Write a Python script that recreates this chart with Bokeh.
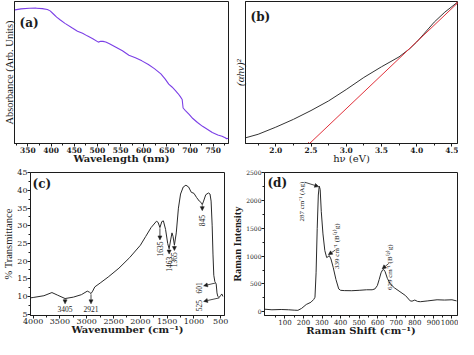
import numpy as np
from bokeh.plotting import figure
from bokeh.layouts import column, row
from bokeh.models import Range1d, Label, Arrow, NormalHead, FixedTicker, NumeralTickFormatter
from bokeh.embed import file_html
from bokeh.resources import INLINE

# ---------------- data ----------------
# (a) UV-vis absorbance
abs_wavelength = [322, 335, 353, 368, 381, 392, 398, 405, 412, 420, 430, 445, 457, 468, 478, 490, 502, 507,
                  512, 518, 526, 540, 554, 568, 582, 596, 610, 623, 637, 646, 654, 661, 668, 674, 679,
                  683, 685, 690, 698, 706, 716, 727, 738, 748, 760, 769, 776, 779, 783]
abs_value = [0.941, 0.948, 0.952, 0.953, 0.950, 0.944, 0.934, 0.912, 0.890, 0.870, 0.846, 0.815, 0.791,
             0.776, 0.758, 0.738, 0.714, 0.720, 0.719, 0.715, 0.703, 0.678, 0.653, 0.622, 0.604, 0.582,
             0.556, 0.527, 0.490, 0.455, 0.418, 0.398, 0.374, 0.352, 0.330, 0.310, 0.250, 0.232, 0.205,
             0.176, 0.148, 0.121, 0.098, 0.077, 0.060, 0.051, 0.040, 0.033, 0.037]

# (b) Tauc plot
tauc_energy = [1.57, 1.75, 2.0, 2.25, 2.5, 2.75, 3.0, 3.25, 3.5, 3.75, 3.9, 4.0, 4.1, 4.25, 4.4, 4.58]
tauc_value = [0.040, 0.065, 0.115, 0.170, 0.232, 0.300, 0.380, 0.465, 0.540, 0.610, 0.667, 0.715,
              0.770, 0.855, 0.925, 0.995]
fit_energy = [2.48, 4.58]
fit_value = [0.0, 0.989]

# (c) FTIR
ftir_wavenumber = [4050, 4000, 3800, 3650, 3550, 3405, 3250, 3100, 2990, 2950, 2921, 2890, 2850, 2750, 2600,
                   2400, 2200, 2000, 1900, 1800, 1700, 1670, 1635, 1600, 1570, 1530, 1490, 1463, 1435,
                   1410, 1390, 1365, 1330, 1290, 1250, 1200, 1150, 1100, 1050, 1000, 950, 900, 860, 845,
                   820, 780, 730, 700, 680, 660, 645, 630, 610, 601, 585, 570, 555, 540, 525, 500, 480, 460]
ftir_transmittance = [9.6, 9.7, 10.2, 11.1, 10.4, 9.4, 9.8, 10.5, 11.5, 11.2, 10.8, 11.5, 12.7, 13.8, 15.5,
                      18.0, 21.0, 24.5, 27.0, 29.5, 31.3, 31.0, 29.5, 31.2, 31.4, 29.0, 25.0, 23.5, 26.0,
                      28.0, 27.0, 24.5, 28.0, 35.0, 39.0, 41.0, 41.5, 41.0, 39.5, 39.2, 38.0, 37.0, 36.5,
                      36.0, 37.0, 38.8, 39.3, 39.0, 37.0, 30.0, 22.0, 16.0, 14.2, 14.0, 13.5, 11.0, 10.0,
                      9.8, 9.8, 10.3, 10.7, 10.0]
ftir_peaks = [3405, 2921, 1635, 1463, 1365, 845, 601, 525]
ftir_peak_labels = ["3405", "2921", "1635", "1463", "1365", "845", "601", "525"]

# (d) Raman
raman_shift = [-8, 30, 80, 120, 150, 170, 190, 215, 240, 255, 262, 268, 274, 280, 285, 290, 296, 305, 315,
               325, 333, 339, 348, 360, 375, 390, 400, 420, 460, 500, 540, 570, 585, 598, 608, 618, 626,
               632, 640, 652, 668, 690, 720, 750, 775, 785, 800, 815, 830, 870, 920, 960, 1000, 1025]
raman_intensity = [45, 35, 40, 35, 28, 25, 60, 130, 170, 220, 260, 700, 1500, 2100, 2260, 2200, 1800, 1400,
                   1100, 975, 990, 1010, 950, 800, 580, 410, 385, 380, 378, 385, 395, 395, 410, 470, 580,
                   700, 750, 760, 720, 600, 500, 430, 360, 290, 195, 190, 210, 185, 180, 195, 215, 210,
                   215, 195]
raman_peaks = [287, 339, 629]
raman_peak_labels = ["287 cm\u207b\u00b9 (Ag)", "339 cm\u207b\u00b9 (B\u207d\u00b9\u207eg)",
                     "629 cm\u207b\u00b9 (B\u207d\u00b2\u207eg)"]

# ticks
a_ticks = [350, 400, 450, 500, 550, 600, 650, 700, 750]
b_ticks = [2.0, 2.5, 3.0, 3.5, 4.0, 4.5]
c_xticks = [4000, 3500, 3000, 2500, 2000, 1500, 1000, 500]
c_yticks = [5, 10, 15, 20, 25, 30, 35, 40, 45]
d_xticks = [100, 200, 300, 400, 500, 600, 700, 800, 900, 1000]
d_yticks = [0, 500, 1000, 1500, 2000, 2500]

SERIF = "Liberation Serif"
WIDE = "DejaVu Serif"
INK = "#1c1c1c"
FRAME = {}


def base(key, width, height, xr, yr, bl, br, bt, bb, xtitle, ytitle, ystyle="normal", ysize=10):
    p = figure(width=width, height=height, x_range=Range1d(*xr), y_range=Range1d(*yr),
               output_backend="svg", toolbar_location=None, title=None,
               min_border_left=bl, min_border_right=br, min_border_top=bt, min_border_bottom=bb)
    p.xgrid.visible = False
    p.ygrid.visible = False
    p.outline_line_color = INK
    p.outline_line_width = 1
    p.background_fill_color = "white"
    p.border_fill_color = "white"
    for ax in (p.xaxis[0], p.yaxis[0]):
        ax.axis_line_color = INK
        ax.major_tick_line_color = INK
        ax.minor_tick_line_color = INK
        ax.major_tick_in = 0
        ax.major_tick_out = 3
        ax.minor_tick_in = 0
        ax.minor_tick_out = 2
        ax.major_label_text_font = WIDE
        ax.major_label_text_color = INK
        ax.major_label_standoff = 0
        ax.axis_label_text_color = INK
        ax.axis_label_standoff = 0
    p.xaxis.axis_label = xtitle
    p.xaxis.axis_label_text_font = WIDE
    p.xaxis.axis_label_text_font_size = "10px"
    p.xaxis.axis_label_text_font_style = "bold"
    p.xaxis.axis_label_standoff = -3
    p.yaxis.axis_label = ytitle
    p.yaxis.axis_label_text_font = SERIF
    p.yaxis.axis_label_text_font_size = f"{ysize}px"
    p.yaxis.axis_label_text_font_style = ystyle
    FRAME[key] = (p, width - bl - br, height - bt - bb)
    return p


def xpx(key, px):
    p, fw, fh = FRAME[key]
    r = p.x_range
    return r.start + px / fw * (r.end - r.start)


def ypx(key, px):
    p, fw, fh = FRAME[key]
    r = p.y_range
    return r.start + px / fh * (r.end - r.start)


def lab(p, x, y, text, size, style="normal", angle=0.0, align="center", baseline="middle", font=SERIF):
    p.add_layout(Label(x=x, y=y, text=text, text_font=font, text_font_size=f"{size}px",
                       text_font_style=style, text_color=INK, angle=angle,
                       text_align=align, text_baseline=baseline))


def arrow(p, x0, y0, x1, y1):
    p.add_layout(Arrow(x_start=x0, y_start=y0, x_end=x1, y_end=y1, line_color=INK, line_width=0.8,
                       end=NormalHead(size=4, line_color=INK, fill_color=INK, line_width=0.5)))


W = 229
H1 = 167
H2 = 172

# ---------------- (a) ----------------
pa = base("a", W, H1, (321, 783), (0, 1), 14, 1, 1, 24, "Wavelength (nm)", "Absorbance (Arb. Units)",
          ysize=10.5)
fwa, fha = FRAME["a"][1], FRAME["a"][2]
pa.line(abs_wavelength, abs_value, line_color="#7B3FE6", line_width=1.1)
pa.xaxis.ticker = FixedTicker(ticks=a_ticks, minor_ticks=[t + 25 for t in [300] + a_ticks])
pa.yaxis.ticker = FixedTicker(ticks=[])
pa.yaxis.major_tick_out = 0
pa.yaxis.minor_tick_out = 0
pa.xaxis.major_label_text_font_size = "7.5px"
pa.xaxis.major_label_text_font_style = "bold"
lab(pa, xpx("a", 5), ypx("a", fha - 21), "(a)", 12, "bold", align="left", font=WIDE)

# ---------------- (b) ----------------
pb = base("b", W, H1, (1.57, 4.58), (0, 1), 16, 1, 1, 24, "h\u03bd (eV)",
          "(\u03b1h\u03bd)\u00b2", "italic", ysize=11)
fwb, fhb = FRAME["b"][1], FRAME["b"][2]
pb.line(tauc_energy, tauc_value, line_color="#333333", line_width=1)
pb.line(fit_energy, fit_value, line_color="#E0303A", line_width=1)
pb.scatter(fit_energy, fit_value, marker="x", size=4, line_color="#E0303A", line_width=1)
pb.xaxis.ticker = FixedTicker(ticks=b_ticks, minor_ticks=[t - 0.25 for t in b_ticks])
pb.xaxis.formatter = NumeralTickFormatter(format="0.0")
pb.yaxis.ticker = FixedTicker(ticks=[])
pb.yaxis.major_tick_out = 0
pb.yaxis.minor_tick_out = 0
pb.xaxis.major_label_text_font_size = "7.5px"
pb.xaxis.major_label_text_font_style = "bold"
pb.xaxis.axis_label_text_font_style = "normal"
lab(pb, xpx("b", 5), ypx("b", fhb - 15), "(b)", 12, "bold", align="left", font=WIDE)

# ---------------- (c) ----------------
pc = base("c", W, H2, (4050, 430), (4.6, 45.1), 26, 5, 5, 24, "Wavenumber (cm\u207b\u00b9)",
          "% Transmittance", ysize=10.5)
fwc, fhc = FRAME["c"][1], FRAME["c"][2]
pc.line(ftir_wavenumber, ftir_transmittance, line_color="#2a2a2a", line_width=1)
pc.xaxis.ticker = FixedTicker(ticks=c_xticks, minor_ticks=[t - 250 for t in c_xticks])
pc.yaxis.ticker = FixedTicker(ticks=c_yticks, minor_ticks=[t + 2.5 for t in c_yticks[:-1]])
pc.xaxis.major_label_text_font_size = "8px"
pc.yaxis.major_label_text_font_size = "8px"
lab(pc, xpx("c", 2), ypx("c", fhc - 11), "(c)", 12, "bold", align="left", font=WIDE)

ftir_curve = [float(np.interp(w, ftir_wavenumber[::-1], ftir_transmittance[::-1])) for w in ftir_peaks]
# label placement (data coords) and arrow tips for each annotated band
c_lab_x = [3405, 2921, 1635, 1463, 1365, 845, 900, 900]
c_lab_y = [6.5, 6.5, 23.4, 19.1, 20.4, 31.5, 12.4, 7.4]
c_angle = [0, 0, np.pi / 2, np.pi / 2, np.pi / 2, np.pi / 2, np.pi / 2, np.pi / 2]
c_tip_x = [3405, 2921, 1635, 1463, 1365, 845, 820, 820]
c_tip_y = [7.9, 7.9, 26.0, 22.0, 23.0, 34.3, 13.0, 8.6]
for k in range(len(ftir_peaks)):
    lab(pc, c_lab_x[k], c_lab_y[k], ftir_peak_labels[k], 7.5, angle=c_angle[k])
    arrow(pc, ftir_peaks[k], ftir_curve[k] - 0.2, c_tip_x[k], c_tip_y[k])

# ---------------- (d) ----------------
pd_ = base("d", W, H2, (-10, 1030), (-68, 2505), 29, 1, 5, 24, "Raman Shift (cm\u207b\u00b9)",
           "Raman Intensity", "bold", ysize=10.5)
fwd, fhd = FRAME["d"][1], FRAME["d"][2]
pd_.line(raman_shift, raman_intensity, line_color="#2a2a2a", line_width=1)
pd_.xaxis.ticker = FixedTicker(ticks=d_xticks, minor_ticks=[t - 50 for t in d_xticks])
pd_.yaxis.ticker = FixedTicker(ticks=d_yticks, minor_ticks=[t + 250 for t in d_yticks[:-1]])
pd_.xaxis.major_label_text_font_size = "7px"
pd_.yaxis.major_label_text_font_size = "6px"
lab(pd_, xpx("d", 3), ypx("d", fhd - 10), "(d)", 12, "bold", align="left", font=WIDE)

raman_curve = [float(np.interp(s, raman_shift, raman_intensity)) for s in raman_peaks]
d_lab_x = [190, 379, 667]
d_lab_y = [1980, 1180, 800]
d_tail_x = [207, 372, 660]
d_tail_y = [2330, 1110, 870]
for k in range(len(raman_peaks)):
    lab(pd_, d_lab_x[k], d_lab_y[k], raman_peak_labels[k], 7, angle=np.pi / 2)
    arrow(pd_, d_tail_x[k], d_tail_y[k], raman_peaks[k] - 5, raman_curve[k] + 15)

layout = column(row(pa, pb), row(pc, pd_))
open("out.html", "w").write(file_html(layout, INLINE))
